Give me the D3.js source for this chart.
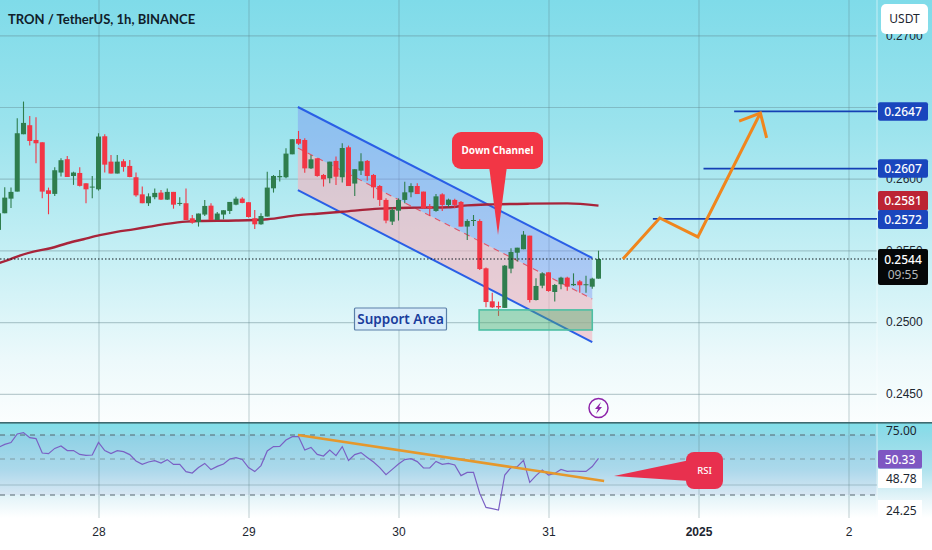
<!DOCTYPE html>
<html>
<head>
<meta charset="utf-8">
<script src="https://cdnjs.cloudflare.com/ajax/libs/d3/7.8.5/d3.min.js"></script>
<style>
  html, body { margin: 0; padding: 0; background: #fff; }
  svg { display: block; font-family: "Noto Sans", sans-serif; }
</style>
</head>
<body>
<div id="wrap"></div>
<script>
// hourly candles, hour 0 = start of the 28th
const firstHour = -16;
const opens = [0.25643,0.25759,0.25861,0.25910,0.26310,0.26373,0.26270,0.26254,0.25919,0.25894,0.26043,0.26136,0.26019,0.26040,0.25968,0.25938,
  0.25926,0.26296,0.26119,0.26036,0.26122,0.26089,0.26010,0.25891,0.25829,0.25871,0.25903,0.25854,0.25908,0.25824,0.25829,0.25724,
  0.25698,0.25750,0.25812,0.25712,0.25750,0.25775,0.25819,0.25861,0.25836,0.25724,0.25682,0.25736,0.25933,0.26010,0.26010,0.26170,
  0.26277,0.26270,0.26072,0.26142,0.26026,0.26003,0.26124,0.26010,0.26219,0.25966,0.26056,0.26124,0.26026,0.25949,0.25852,0.25701,
  0.25777,0.25852,0.25905,0.25949,0.25910,0.25805,0.25775,0.25891,0.25817,0.25852,0.25838,0.25666,0.25705,0.25705,0.25375,0.25145,
  0.25112,0.25099,0.25373,0.25484,0.25508,0.25603,0.25154,0.25254,0.25347,0.25210,0.25264,0.25310,0.25257,0.25284,0.25257,0.25247,0.25303];
const highs = [0.25759,0.25940,0.25938,0.26421,0.26538,0.26438,0.26428,0.26254,0.25938,0.26080,0.26142,0.26159,0.26049,0.26080,0.25968,0.26019,
  0.26317,0.26310,0.26166,0.26166,0.26136,0.26131,0.26043,0.25945,0.25898,0.25931,0.25922,0.25931,0.25908,0.25871,0.25931,0.25747,
  0.25757,0.25852,0.25829,0.25768,0.25780,0.25838,0.25875,0.25871,0.25836,0.25782,0.25759,0.26049,0.26026,0.26061,0.26212,0.26275,
  0.26333,0.26282,0.26165,0.26142,0.26033,0.26119,0.26154,0.26247,0.26231,0.26066,0.26177,0.26131,0.26033,0.25956,0.25863,0.25801,
  0.25863,0.25979,0.25968,0.25968,0.25910,0.25824,0.25893,0.25898,0.25861,0.25861,0.25845,0.25717,0.25747,0.25717,0.25380,0.25205,
  0.25143,0.25398,0.25515,0.25519,0.25635,0.25603,0.25305,0.25347,0.25347,0.25266,0.25317,0.25317,0.25340,0.25294,0.25324,0.25310,0.25498];
const lows = [0.25643,0.25759,0.25796,0.25910,0.26310,0.26231,0.26108,0.25864,0.25752,0.25880,0.26015,0.26012,0.25957,0.25945,0.25829,0.25864,
  0.25917,0.26043,0.26036,0.26036,0.26049,0.26010,0.25875,0.25829,0.25810,0.25857,0.25852,0.25852,0.25791,0.25812,0.25712,0.25685,
  0.25666,0.25740,0.25712,0.25712,0.25717,0.25754,0.25815,0.25829,0.25729,0.25650,0.25678,0.25736,0.25903,0.25980,0.26003,0.26170,
  0.26235,0.26042,0.26068,0.26014,0.25945,0.25968,0.25956,0.25973,0.25949,0.25880,0.26026,0.25986,0.25863,0.25810,0.25689,0.25677,
  0.25708,0.25828,0.25870,0.25893,0.25789,0.25740,0.25770,0.25775,0.25801,0.25794,0.25666,0.25573,0.25670,0.25364,0.25103,0.25099,
  0.25043,0.25099,0.25340,0.25422,0.25508,0.25136,0.25150,0.25236,0.25212,0.25143,0.25229,0.25219,0.25252,0.25205,0.25205,0.25233,0.25303];
const closes = [0.25759,0.25868,0.25908,0.26317,0.26389,0.26263,0.26247,0.25910,0.25894,0.26059,0.26129,0.26012,0.26043,0.25950,0.25926,0.25945,
  0.26294,0.26098,0.26036,0.26119,0.26082,0.26012,0.25884,0.25829,0.25877,0.25901,0.25854,0.25908,0.25819,0.25831,0.25712,0.25694,
  0.25757,0.25810,0.25712,0.25757,0.25780,0.25838,0.25861,0.25831,0.25733,0.25682,0.25740,0.25938,0.26019,0.26019,0.26175,0.26275,
  0.26244,0.26072,0.26135,0.26019,0.25996,0.26119,0.26014,0.26214,0.25949,0.26066,0.26121,0.26019,0.25940,0.25852,0.25708,0.25782,
  0.25852,0.25905,0.25949,0.25893,0.25794,0.25794,0.25877,0.25817,0.25854,0.25817,0.25666,0.25705,0.25712,0.25370,0.25140,0.25103,
  0.25103,0.25394,0.25489,0.25519,0.25610,0.25154,0.25252,0.25340,0.25217,0.25259,0.25310,0.25247,0.25266,0.25257,0.25264,0.25303,0.25440];

// moving average, read at these hours
const maHours = [-16,-14.4,-12.6,-10.4,-7.7,-5,-2.4,0.2,2.9,5.6,8.2,10.9,14,16,22,27,32,35,39,45,51,56,59,63,69,75,80];
const maValues = [0.25410,0.25434,0.25464,0.25492,0.25515,0.25550,0.25578,0.25606,0.25629,0.25647,0.25666,0.25685,0.25701,0.25705,0.25708,0.25717,0.25746,0.25756,0.25770,0.25791,0.25798,0.25801,0.25814,0.25821,0.25826,0.25828,0.25812];

// rsi, one value per candle
const rsiValues = [55.8,57.3,58.2,62.5,63.2,60.7,60.2,53.0,52.7,55.3,56.5,54.2,54.2,52.3,51.8,52.0,
  58.3,54.2,52.7,54.2,53.7,52.2,49.0,47.3,48.5,49.2,48.0,49.7,47.3,47.3,43.7,43.0,
  45.7,47.8,44.7,46.3,47.5,50.0,50.7,49.8,45.7,43.7,46.7,54.0,56.2,56.3,59.5,61.2,
  61.2,54.5,55.8,52.3,51.5,54.5,51.7,56.2,49.3,52.2,53.2,50.8,48.5,45.7,42.2,44.8,
  47.5,49.7,50.2,48.7,45.5,45.5,48.8,47.3,47.8,47.0,41.7,43.3,43.3,32.8,25.8,25.2,
  24.5,42.0,45.7,46.2,49.3,38.3,41.7,44.5,42.0,42.8,44.8,43.8,44.0,43.8,43.8,46.2,50.3];
const rsiLevels = [62, 50, 32];

// drawings
const channelHours = [31.9, 79];
const channelUpper = [0.2650, 0.25447];
const channelMid = [0.26214, 0.25161];
const channelLower = [0.25921, 0.24861];
const supportHours = [60.9, 79];
const supportPrices = [0.25085, 0.24945];
const targetPrices = [0.2647, 0.2607, 0.2572];
const targetStartHours = [101.7, 96.8, 88.7];
const pathHours = [83.9, 89.8, 95.9, 105.9];
const pathPrices = [0.25440, 0.25726, 0.25594, 0.26458];
const arrowHours = [102.5, 105.9, 106.9];
const arrowPrices = [0.26402, 0.26458, 0.26284];
const rsiTrendHours = [31.9, 80.9];
const rsiTrendValues = [62, 39];

const dayHours = [0, 24, 48, 72, 96, 120];
const dayLabels = ["28", "29", "30", "31", "2025", "2"];
const priceTicks = [0.27, 0.265, 0.26, 0.255, 0.25, 0.245];
const lastPrice = 0.2544;

const width = 932;
const height = 550;
const chartRight = 877;
const sepY = 422;

const x = d3.scaleLinear().domain([0, 24]).range([98.5, 248.5]);
const y = d3.scaleLinear().domain([0.265, 0.245]).range([107, 393.8]);
const yRsi = d3.scaleLinear().domain([50, 25]).range([459, 509]);

const svg = d3.select("#wrap").append("svg").attr("width", width).attr("height", height);
const defs = svg.append("defs");

function gradient(id, stops) {
  const g = defs.append("linearGradient").attr("id", id).attr("x1", 0).attr("y1", 0).attr("x2", 0).attr("y2", 1);
  stops.forEach(s => g.append("stop").attr("offset", s[0]).attr("stop-color", s[1]));
}
gradient("bgMain", [[0, "#7fdbe9"], [0.3, "#9be3ed"], [0.62, "#c8f0f5"], [0.85, "#ecf9fb"], [1, "#fbfefe"]]);
gradient("bgRsi", [[0, "#7fdfe9"], [0.12, "#8edbe8"], [0.5, "#b0e3ee"], [0.8, "#e6f5f9"], [1, "#ffffff"]]);
defs.append("clipPath").attr("id", "clipMain").append("rect").attr("width", chartRight).attr("height", sepY);
defs.append("clipPath").attr("id", "clipRsi").append("rect").attr("y", sepY).attr("width", chartRight).attr("height", 100);

svg.append("rect").attr("width", width).attr("height", height).attr("fill", "#fff");
svg.append("rect").attr("width", width).attr("height", sepY).attr("fill", "url(#bgMain)");
svg.append("rect").attr("y", sepY).attr("width", width).attr("height", 96).attr("fill", "url(#bgRsi)");

// band behind rsi
svg.append("rect").attr("y", yRsi(rsiLevels[0])).attr("width", chartRight)
  .attr("height", yRsi(rsiLevels[2]) - yRsi(rsiLevels[0]))
  .attr("fill", "#7e57c2").attr("opacity", 0.07);

// price axis, the 0.2650 label sits behind the 0.2647 tag so it is left out
const gridColor = "#5b7f86";
const yAxis = d3.axisRight(y).tickValues(priceTicks)
  .tickFormat(d => d === 0.265 ? "" : d3.format(".4f")(d))
  .tickSize(-chartRight).tickPadding(8);
const gY = svg.append("g").attr("transform", `translate(${chartRight},0)`).call(yAxis);
gY.select(".domain").remove();
gY.selectAll("line").attr("stroke", gridColor).attr("stroke-opacity", 0.38).attr("stroke-width", 1.2);
gY.selectAll("text").attr("font-size", 12).attr("fill", "#1c2630").attr("x", 9);

// time axis
const xAxis = d3.axisBottom(x).tickValues(dayHours).tickFormat((d, i) => dayLabels[i]).tickSize(-518).tickPadding(9);
const gX = svg.append("g").attr("transform", "translate(0,518)").call(xAxis);
gX.select(".domain").remove();
gX.selectAll("line").attr("stroke", gridColor).attr("stroke-opacity", 0.38).attr("stroke-width", 1);
gX.selectAll("text").attr("font-size", 12).attr("fill", "#1c2630")
  .attr("font-weight", (d, i) => dayLabels[i] === "2025" ? 700 : 400);

// axis border
svg.append("line").attr("x1", chartRight).attr("x2", chartRight).attr("y1", 0).attr("y2", 518)
  .attr("stroke", "#fff").attr("stroke-opacity", 0.55);

const main = svg.append("g").attr("clip-path", "url(#clipMain)");

// channel fills
const upperArea = d3.area().x((d, i) => x(channelHours[i])).y0((d, i) => y(channelMid[i])).y1(d => y(d));
const lowerArea = d3.area().x((d, i) => x(channelHours[i])).y0((d, i) => y(channelLower[i])).y1(d => y(d));
main.append("path").attr("d", upperArea(channelUpper)).attr("fill", "#7f91f3").attr("opacity", 0.42);
main.append("path").attr("d", lowerArea(channelMid)).attr("fill", "#f6b2be").attr("opacity", 0.6);

const line2 = d3.line().x((d, i) => x(channelHours[i])).y(d => y(d));
main.append("path").attr("d", line2(channelMid)).attr("fill", "none")
  .attr("stroke", "#e0566a").attr("stroke-width", 1.1).attr("stroke-dasharray", "6 5");
[channelUpper, channelLower].forEach(c => {
  main.append("path").attr("d", line2(c)).attr("fill", "none").attr("stroke", "#2a5fe6").attr("stroke-width", 2);
});

// ma
const maLine = d3.line().curve(d3.curveMonotoneX).x((d, i) => x(maHours[i])).y(d => y(d));
main.append("path").attr("d", maLine(maValues)).attr("fill", "none")
  .attr("stroke", "#a8243a").attr("stroke-width", 2.4);

// candles
const candles = opens.map((o, i) => ({ h: firstHour + i, o: o, hi: highs[i], lo: lows[i], c: closes[i] }));
const upColor = "#2f7d4d";
const downColor = "#f23645";
const bodyWidth = 5;
const cg = main.selectAll(".candle").data(candles).enter().append("g").attr("class", "candle");
cg.append("line")
  .attr("x1", d => x(d.h)).attr("x2", d => x(d.h))
  .attr("y1", d => y(d.hi)).attr("y2", d => y(d.lo))
  .attr("stroke", d => d.c >= d.o ? upColor : downColor).attr("stroke-width", 1.1);
cg.append("rect")
  .attr("x", d => x(d.h) - bodyWidth / 2).attr("width", bodyWidth)
  .attr("y", d => y(Math.max(d.o, d.c)))
  .attr("height", d => Math.max(1, Math.abs(y(d.o) - y(d.c))))
  .attr("fill", d => d.c >= d.o ? upColor : downColor);

// support area
main.append("rect")
  .attr("x", x(supportHours[0])).attr("width", x(supportHours[1]) - x(supportHours[0]))
  .attr("y", y(supportPrices[0])).attr("height", y(supportPrices[1]) - y(supportPrices[0]))
  .attr("fill", "#4cae6a").attr("fill-opacity", 0.42)
  .attr("stroke", "#4dbfa4").attr("stroke-width", 1.6);

// current price
main.append("line").attr("x1", 0).attr("x2", chartRight).attr("y1", y(lastPrice)).attr("y2", y(lastPrice))
  .attr("stroke", "#11181f").attr("stroke-width", 1).attr("stroke-dasharray", "1.5 2");

// targets
targetPrices.forEach((p, i) => {
  main.append("line").attr("x1", x(targetStartHours[i])).attr("x2", chartRight).attr("y1", y(p)).attr("y2", y(p))
    .attr("stroke", "#1440b4").attr("stroke-width", 1.8);
});

// forecast path
const orange = "#f0861d";
const pl = d3.line();
main.append("path").attr("d", pl(pathHours.map((h, i) => [x(h), y(pathPrices[i])])))
  .attr("fill", "none").attr("stroke", orange).attr("stroke-width", 3).attr("stroke-linejoin", "miter");
main.append("path").attr("d", pl(arrowHours.map((h, i) => [x(h), y(arrowPrices[i])])))
  .attr("fill", "none").attr("stroke", orange).attr("stroke-width", 3);

// callout down channel
const red = "#f23645";
main.append("path").attr("d", "M489,166 L498,235 L507,166 Z").attr("fill", red);
main.append("rect").attr("x", 452).attr("y", 132).attr("width", 91).attr("height", 37).attr("rx", 9).attr("fill", red);
main.append("text").attr("x", 497.5).attr("y", 154).attr("text-anchor", "middle")
  .attr("font-size", 10).attr("font-weight", 700).attr("fill", "#fff").text("Down Channel");

// support area label
main.append("rect").attr("x", 354.5).attr("y", 308).attr("width", 92).attr("height", 22)
  .attr("fill", "#d8ecfa").attr("stroke", "#5a7fa8").attr("stroke-width", 1.2).attr("rx", 1);
main.append("text").attr("x", 400.5).attr("y", 324).attr("text-anchor", "middle")
  .attr("font-size", 13.5).attr("font-weight", 600).attr("fill", "#1a3c9c").text("Support Area");

// bolt badge
const badge = svg.append("g").attr("transform", "translate(598.5,408)");
badge.append("circle").attr("r", 9.5).attr("fill", "none").attr("stroke", "#8e24aa").attr("stroke-width", 1.5);
badge.append("path").attr("d", "M2.5,-6 L-3.5,1 L-0.5,1 L-2.5,6 L3.5,-1 L0.5,-1 Z").attr("fill", "#8e24aa");

// panel separator
svg.append("rect").attr("y", sepY).attr("width", width).attr("height", 1.6).attr("fill", "#3e6a70");

// rsi pane
const pane = svg.append("g").attr("clip-path", "url(#clipRsi)");
rsiLevels.forEach(v => {
  pane.append("line").attr("x1", 0).attr("x2", chartRight).attr("y1", yRsi(v)).attr("y2", yRsi(v))
    .attr("stroke", v === 50 ? "#7f9aa3" : "#55666e").attr("stroke-width", 1).attr("stroke-dasharray", "5 5");
});
pane.append("line").attr("x1", 0).attr("x2", chartRight).attr("y1", yRsi(37)).attr("y2", yRsi(37))
  .attr("stroke", gridColor).attr("stroke-opacity", 0.38).attr("stroke-width", 1.2);
const rsiLine = d3.line().x((d, i) => x(firstHour + i)).y(d => yRsi(d));
pane.append("path").attr("d", rsiLine(rsiValues)).attr("fill", "none")
  .attr("stroke", "#7a60c4").attr("stroke-width", 1.2);
pane.append("path").attr("d", d3.line().x((d, i) => x(rsiTrendHours[i])).y(d => yRsi(d))(rsiTrendValues))
  .attr("fill", "none").attr("stroke", "#e5982c").attr("stroke-width", 2.5);

// callout rsi
pane.append("path").attr("d", "M614,476 L690,460 L690,481 Z").attr("fill", "#e8304e");
pane.append("rect").attr("x", 686).attr("y", 452).attr("width", 37).attr("height", 37).attr("rx", 8).attr("fill", "#e8304e");
pane.append("text").attr("x", 704.5).attr("y", 474).attr("text-anchor", "middle")
  .attr("font-size", 9.5).attr("font-weight", 500).attr("fill", "#fff").text("RSI");

// right side tags
function tag(label, top, h, fill, color, w) {
  svg.append("rect").attr("x", 878).attr("y", top).attr("width", w || 50).attr("height", h).attr("rx", 2).attr("fill", fill);
  svg.append("text").attr("x", 903 - (w ? (50 - w) / 2 : 0)).attr("y", top + h / 2 + 4.3).attr("text-anchor", "middle")
    .attr("font-size", 12).attr("font-weight", 500).attr("fill", color).text(label);
}
tag(targetPrices[0].toFixed(4), y(targetPrices[0]) - 9, 18.5, "#1a46bd", "#fff");
tag(targetPrices[1].toFixed(4), y(targetPrices[1]) - 9.5, 18.5, "#1a46bd", "#fff");
tag("0.2581", 191, 19.5, "#bc2434", "#fff");
tag(targetPrices[2].toFixed(4), 210, 19, "#1a46bd", "#fff");

// last price with countdown
svg.append("rect").attr("x", 878).attr("y", 249).attr("width", 50).attr("height", 36).attr("rx", 2).attr("fill", "#050708");
svg.append("text").attr("x", 903).attr("y", 264).attr("text-anchor", "middle")
  .attr("font-size", 12).attr("font-weight", 500).attr("fill", "#fff").text(lastPrice.toFixed(4));
svg.append("text").attr("x", 903).attr("y", 279).attr("text-anchor", "middle")
  .attr("font-size", 12).attr("fill", "#b4b8bb").text("09:55");

// rsi side labels
svg.append("text").attr("x", 886).attr("y", 435).attr("font-size", 12).attr("fill", "#1c2630").text("75.00");
tag("50.33", 450, 18.5, "#7e57c2", "#fff", 44);
svg.append("rect").attr("x", 878).attr("y", 469).attr("width", 44).attr("height", 19).attr("fill", "#fff");
svg.append("text").attr("x", 886).attr("y", 483).attr("font-size", 12).attr("fill", "#1c2630").text("48.78");
svg.append("rect").attr("x", 878).attr("y", 500).attr("width", 44).attr("height", 21).attr("fill", "#fff");
svg.append("text").attr("x", 886).attr("y", 515).attr("font-size", 12).attr("fill", "#1c2630").text("24.25");

// currency button
svg.append("rect").attr("x", 881).attr("y", 4).attr("width", 47).attr("height", 30).attr("rx", 5).attr("fill", "#fff");
svg.append("text").attr("x", 904.5).attr("y", 23).attr("text-anchor", "middle")
  .attr("font-size", 12).attr("fill", "#1c2630").text("USDT");

// title
svg.append("text").attr("x", 8).attr("y", 24)
  .attr("font-family", "Lato, sans-serif")
  .attr("font-size", 13).attr("font-weight", 700).attr("fill", "#10202a").text("TRON / TetherUS, 1h, BINANCE");
</script>
</body>
</html>
